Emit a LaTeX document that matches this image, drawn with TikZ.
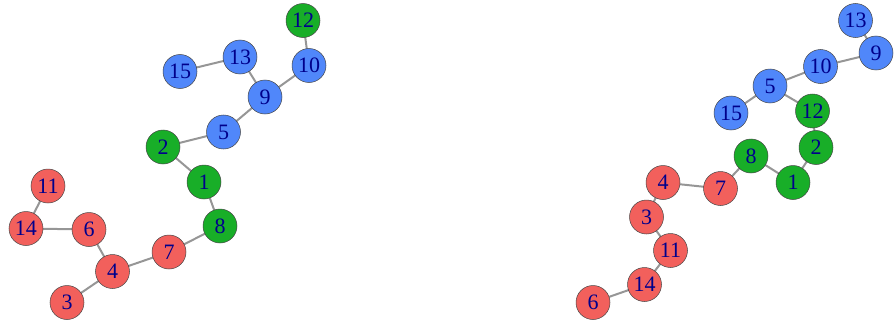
\documentclass[tikz,border=0pt]{standalone}
\usepackage{fontspec}
\setmainfont{Liberation Serif}
\definecolor{vred}{RGB}{242,96,92}
\definecolor{vgreen}{RGB}{24,174,40}
\definecolor{vblue}{RGB}{80,135,250}
\definecolor{vtext}{RGB}{0,0,139}
\definecolor{vedge}{RGB}{150,150,150}
\definecolor{vborder}{RGB}{70,70,70}
\tikzset{
  vtx/.style={circle, draw=vborder, line width=0.5pt, minimum size=34pt, inner sep=0pt,
    text=vtext, font=\fontsize{22}{22}\selectfont},
  rv/.style={vtx, fill=vred},
  gv/.style={vtx, fill=vgreen},
  bv/.style={vtx, fill=vblue},
  edg/.style={draw=vedge, line width=2pt}
}
\begin{document}
\begin{tikzpicture}[x=1pt,y=-1pt]
\useasboundingbox (0,0) rectangle (895,324);
% left graph
\coordinate (L12) at (303,20.5);
\coordinate (L10) at (309,65.5);
\coordinate (L13) at (240,57);
\coordinate (L15) at (180,71.5);
\coordinate (L9) at (265,97);
\coordinate (L5) at (223.5,132);
\coordinate (L2) at (163,147);
\coordinate (L1) at (204,182);
\coordinate (L8) at (220,226);
\coordinate (L7) at (169,252);
\coordinate (L4) at (112.5,271.5);
\coordinate (L3) at (67,302.5);
\coordinate (L6) at (89,229.5);
\coordinate (L14) at (26,228.5);
\coordinate (L11) at (48,186);
\foreach \a/\b in {12/10,10/9,13/9,15/13,9/5,5/2,2/1,1/8,8/7,7/4,4/3,4/6,6/14,14/11}
  \draw[edg] (L\a) -- (L\b);
\node[gv] (l12) at (L12) {12};
\node[bv] (l10) at (L10) {10};
\node[bv] (l13) at (L13) {13};
\node[bv] (l15) at (L15) {15};
\node[bv] (l9) at (L9) {9};
\node[bv] (l5) at (L5) {5};
\node[gv] (l2) at (L2) {2};
\node[gv] (l1) at (L1) {1};
\node[gv] (l8) at (L8) {8};
\node[rv] (l7) at (L7) {7};
\node[rv] (l4) at (L4) {4};
\node[rv] (l3) at (L3) {3};
\node[rv] (l6) at (L6) {6};
\node[rv] (l14) at (L14) {14};
\node[rv] (l11) at (L11) {11};
% right graph
\coordinate (R13) at (855.5,20.5);
\coordinate (R9) at (876,53);
\coordinate (R10) at (820.5,66.5);
\coordinate (R5) at (770,86);
\coordinate (R15) at (731,113);
\coordinate (R12) at (812.5,111);
\coordinate (R2) at (816,147.5);
\coordinate (R8) at (751,156);
\coordinate (R1) at (793,182.5);
\coordinate (R4) at (663,182.5);
\coordinate (R7) at (720.5,188.5);
\coordinate (R3) at (646.5,217);
\coordinate (R11) at (670.5,250.5);
\coordinate (R14) at (644.5,284.5);
\coordinate (R6) at (593,302.5);
\foreach \a/\b in {13/9,9/10,10/5,5/15,5/12,12/2,2/1,1/8,8/7,7/4,4/3,3/11,11/14,14/6}
  \draw[edg] (R\a) -- (R\b);
\node[bv] (r13) at (R13) {13};
\node[bv] (r9) at (R9) {9};
\node[bv] (r10) at (R10) {10};
\node[bv] (r5) at (R5) {5};
\node[bv] (r15) at (R15) {15};
\node[gv] (r12) at (R12) {12};
\node[gv] (r2) at (R2) {2};
\node[gv] (r8) at (R8) {8};
\node[gv] (r1) at (R1) {1};
\node[rv] (r4) at (R4) {4};
\node[rv] (r7) at (R7) {7};
\node[rv] (r3) at (R3) {3};
\node[rv] (r11) at (R11) {11};
\node[rv] (r14) at (R14) {14};
\node[rv] (r6) at (R6) {6};
\end{tikzpicture}
\end{document}
